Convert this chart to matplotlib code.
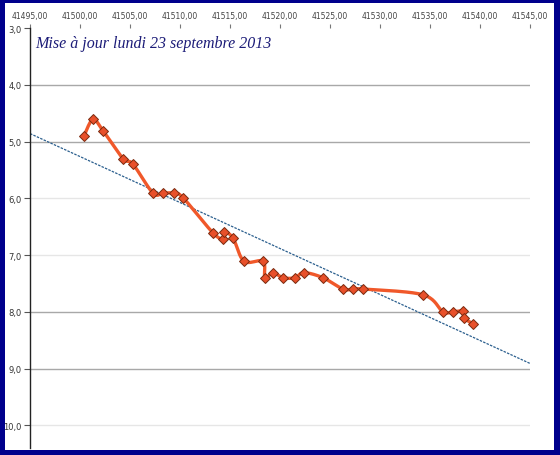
import numpy as np
import matplotlib
matplotlib.use('Agg')
import matplotlib.pyplot as plt
from matplotlib.patches import Rectangle

# ---- data ----
dates = [41500.4, 41501.3, 41502.3, 41504.3, 41505.3, 41507.3, 41508.3, 41509.4,
         41510.3, 41513.3, 41514.3, 41514.4, 41515.3, 41516.4, 41518.3, 41518.5,
         41519.3, 41520.3, 41521.5, 41522.4, 41524.3, 41526.3, 41527.3, 41528.3,
         41534.3, 41536.3, 41537.3, 41538.3, 41538.4, 41539.3]
values = [4.90, 4.61, 4.81, 5.30, 5.40, 5.91, 5.91, 5.91,
          5.99, 6.61, 6.71, 6.59, 6.70, 7.11, 7.11, 7.40,
          7.31, 7.40, 7.40, 7.31, 7.40, 7.60, 7.60, 7.60,
          7.70, 8.00, 8.00, 7.99, 8.11, 8.21]
trend_x = [41495.0, 41545.0]
trend_y = [4.86, 8.91]
x_ticks = [41495, 41500, 41505, 41510, 41515, 41520, 41525, 41530, 41535, 41540, 41545]
x_tick_labels = ["41495,00", "41500,00", "41505,00", "41510,00", "41515,00", "41520,00",
                 "41525,00", "41530,00", "41535,00", "41540,00", "41545,00"]
y_ticks = [3, 4, 5, 6, 7, 8, 9, 10]
y_tick_labels = ["3,0", "4,0", "5,0", "6,0", "7,0", "8,0", "9,0", "10,0"]
title = "Mise à jour lundi 23 septembre 2013"


def catmull_rom(xs, ys, n=20):
    P = np.column_stack([xs, ys]).astype(float)
    P = np.vstack([P[0], P, P[-1]])
    out = []
    t = np.linspace(0, 1, n, endpoint=False)[:, None]
    for i in range(1, len(P) - 2):
        p0, p1, p2, p3 = P[i - 1], P[i], P[i + 1], P[i + 2]
        c1 = p1 + (p2 - p0) / 6.0
        c2 = p2 - (p3 - p1) / 6.0
        seg = ((1 - t) ** 3) * p1 + 3 * ((1 - t) ** 2) * t * c1 + 3 * (1 - t) * t ** 2 * c2 + t ** 3 * p2
        out.append(seg)
    out.append(P[-2][None, :])
    out = np.vstack(out)
    return out[:, 0], out[:, 1]


W, H = 560, 456
fig = plt.figure(figsize=(W / 100, H / 100), dpi=100)
fig.patch.set_facecolor('#00008C')
fig.patches.append(Rectangle((5 / W, 5 / H), (554 - 5) / W, (452 - 5) / H,
                             transform=fig.transFigure, facecolor='white',
                             edgecolor='none', zorder=-10))

left, right, top, bottom = 30, 530, 29, 449
ax = fig.add_axes([left / W, 1 - bottom / H, (right - left) / W, (bottom - top) / H])
ax.set_zorder(5)
ax.patch.set_alpha(0)
ax.set_xlim(trend_x[0], trend_x[1])
ax.set_ylim(10.4, 3.0)

# grid
for v in y_ticks[1:]:
    col = '#A8A8A8' if v in (4, 5, 8, 9) else '#E6E6E6'
    ax.axhline(v, color=col, lw=1.0, zorder=1)

# trend line
ax.plot(trend_x, trend_y, color='#2B5F8E', lw=0.9, ls=(0, (2.0, 1.0)), zorder=2)

# smoothed series
sx, sy = catmull_rom(dates, values)
ax.plot(sx, sy, color='#F0582A', lw=2.4, solid_capstyle='round', zorder=3)
ax.plot(dates, values, ls='none', marker='D', ms=5.5, mfc='#E8502A', mec='#7A2A10',
        mew=0.7, zorder=4)

# axes styling
for s in ['top', 'right', 'bottom']:
    ax.spines[s].set_visible(False)
ax.spines['left'].set_color('#222222')
ax.spines['left'].set_linewidth(1.0)

ax.set_yticks(y_ticks)
ax.set_yticklabels(y_tick_labels, fontsize=6, color='#333333')
ax.tick_params(axis='y', direction='out', length=4, width=0.8, color='#555555', pad=2)

ax.xaxis.tick_top()
ax.set_xticks(x_ticks)
ax.set_xticklabels(x_tick_labels, fontsize=5.5, color='#444444')
ax.tick_params(axis='x', direction='out', length=3, width=0.8, color='#777777', pad=3)

fig.text(35 / W, 1 - 44 / H, title, fontsize=11.5, style='italic',
         family='Liberation Serif', color='#1C1C78', va='center', ha='left', zorder=6)

fig.savefig('out.png', dpi=100, facecolor=fig.get_facecolor())
